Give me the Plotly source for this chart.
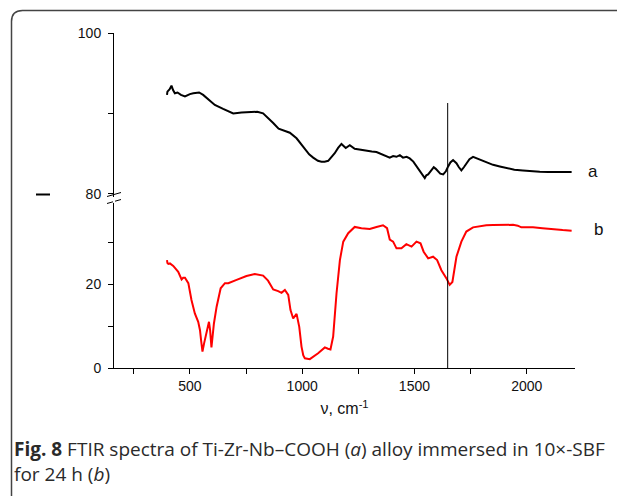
import plotly.graph_objects as go

# ---------------- data ----------------
wn_a = [398, 400, 410, 418, 425, 433, 445, 460, 478, 490, 500, 515, 530, 541, 559, 580, 611, 648, 693, 730, 767, 800, 826,
        850, 871, 895, 915, 945, 975, 1004, 1031, 1049, 1070, 1086, 1100, 1116, 1130, 1145, 1160, 1175, 1194, 1212, 1234,
        1260, 1286, 1310, 1331, 1360, 1390, 1405, 1420, 1435, 1449, 1465, 1479, 1495, 1509, 1520, 1531, 1540, 1546, 1553,
        1561, 1575, 1586, 1595, 1605, 1615, 1628, 1640, 1650, 1660, 1672, 1680, 1687, 1698, 1709, 1720, 1731, 1745, 1761,
        1780, 1806, 1830, 1850, 1880, 1909, 1945, 1983, 2020, 2058, 2095, 2132, 2170, 2200]
t_a = [92.3, 92.7, 93.0, 93.45, 92.9, 92.5, 92.6, 92.3, 92.1, 92.3, 92.4, 92.5, 92.55, 92.6, 92.3, 91.8, 91.05, 90.56, 90.0,
       90.1, 90.15, 90.2, 90.0, 89.4, 88.8, 88.1, 87.9, 87.6, 86.9, 85.9, 84.9, 84.5, 84.1, 84.0, 84.0, 84.1, 84.5, 85.05,
       85.7, 86.2, 85.7, 86.05, 85.6, 85.45, 85.3, 85.25, 85.2, 84.9, 84.5, 84.7, 84.6, 84.8, 84.5, 84.6, 84.4, 84.0, 83.4,
       83.1, 82.6, 82.1, 81.95, 82.3, 82.4, 82.9, 83.3, 83.1, 82.8, 82.5, 82.4, 82.8, 83.4, 83.9, 84.2, 84.0, 83.8, 83.3,
       82.9, 83.3, 83.8, 84.3, 84.6, 84.4, 84.1, 83.8, 83.6, 83.4, 83.2, 83.0, 82.9, 82.8, 82.75, 82.7, 82.7, 82.7, 82.7]

wn_b = [398, 400, 404, 411, 426, 448, 463, 470, 478, 485, 493, 507, 522, 537, 545, 550, 556, 563, 571, 585, 590, 596,
        601, 607, 619, 637, 656, 671, 708, 752, 789, 826, 848, 871, 893, 908, 923, 938, 948, 960, 975, 987, 997, 1005,
        1012, 1034, 1071, 1101, 1115, 1126, 1138, 1153, 1168, 1183, 1205, 1234, 1264, 1301, 1331, 1360, 1378, 1390, 1405,
        1420, 1442, 1464, 1487, 1509, 1527, 1541, 1561, 1583, 1601, 1620, 1642, 1657, 1669, 1687, 1709, 1731, 1761, 1790,
        1820, 1850, 1880, 1910, 1939, 1960, 1976, 2000, 2028, 2070, 2117, 2160, 2200]
t_b = [25.7, 25.0, 24.8, 24.9, 24.3, 22.9, 21.1, 21.5, 21.5, 20.8, 20.2, 16.2, 13.0, 11.0, 9.0, 6.5, 3.9, 5.8, 7.5, 11.0,
       9.0, 4.9, 7.5, 10.6, 14.6, 19.0, 20.2, 20.2, 21.0, 21.9, 22.4, 22.0, 20.8, 18.7, 18.3, 17.9, 18.6, 17.4, 13.8, 11.8,
       12.9, 9.8, 5.1, 3.0, 2.3, 2.1, 3.5, 4.9, 4.6, 4.4, 7.5, 17.8, 25.7, 30.1, 32.1, 33.6, 33.3, 33.1, 33.6, 34.0, 33.3,
       30.6, 30.1, 28.5, 28.5, 29.5, 28.9, 30.1, 29.7, 27.7, 26.1, 26.5, 25.7, 23.3, 21.4, 19.8, 20.5, 26.5, 30.1, 32.5,
       33.5, 33.8, 34.0, 34.05, 34.1, 34.1, 34.1, 33.9, 33.5, 33.5, 33.5, 33.3, 33.0, 32.85, 32.7]

marker_wn = 1648
x_tick_vals = [250, 500, 750, 1000, 1250, 1500, 1750, 2000]
x_tick_text = ["", "500", "", "1000", "", "1500", "", "2000"]
top_tick_vals = [80, 90, 100]
top_tick_text = ["80", "", "100"]
bot_tick_vals = [0, 10, 20, 30]
bot_tick_text = ["0", "", "20", ""]
x_title = "ν, cm<sup>-1</sup>"
caption = ("<b>Fig. 8</b> FTIR spectra of Ti-Zr-Nb–COOH (<i>a</i>) alloy immersed in 10×-SBF<br>"
           "for 24 h (<i>b</i>)")

# ---------------- layout geometry ----------------
OFF = 8  # page body margin
W, H = 625 - OFF, 496 - OFF
L, R, T, B = 114 - OFF, 50, 33 - OFF, 128
PW, PH = W - L - R, H - T - B


def px(xp):
    return (xp - OFF - L) / PW


def py(yp):
    return (T + PH - (yp - OFF)) / PH


fig = go.Figure()
fig.add_trace(go.Scatter(x=wn_a, y=t_a, mode="lines", line=dict(color="black", width=2),
                         xaxis="x2", yaxis="y2", showlegend=False))
fig.add_trace(go.Scatter(x=wn_b, y=t_b, mode="lines", line=dict(color="#ff0000", width=2),
                         xaxis="x", yaxis="y", showlegend=False))

FONT = "Liberation Sans"
tickfont = dict(family=FONT, size=14, color="#111")
xr = [162, 2215]

fig.update_layout(
    width=W, height=H,
    margin=dict(l=L, r=R, t=T, b=B),
    paper_bgcolor="white", plot_bgcolor="white",
    xaxis=dict(range=xr, domain=[0, 1], anchor="y", showline=True, linecolor="black", linewidth=1,
               ticks="outside", ticklen=5, tickcolor="black", tickvals=x_tick_vals, ticktext=x_tick_text,
               tickfont=tickfont, showgrid=False, zeroline=False,
               title=dict(text=x_title, font=dict(family=FONT, size=16, color="#111"), standoff=10)),
    xaxis2=dict(range=xr, domain=[0, 1], anchor="y2", matches="x", showline=False, showticklabels=False,
                ticks="", showgrid=False, zeroline=False),
    yaxis=dict(range=[0, 39.3], domain=[0, py(203)], anchor="x", showline=True, linecolor="black", linewidth=1,
               ticks="outside", ticklen=5, tickcolor="black", tickvals=bot_tick_vals, ticktext=bot_tick_text,
               tickfont=tickfont, showgrid=False, zeroline=False, ticklabelstandoff=4),
    yaxis2=dict(range=[79.6, 100], domain=[py(197), 1], anchor="x2", showline=True, linecolor="black", linewidth=1,
                ticks="outside", ticklen=5, tickcolor="black", tickvals=top_tick_vals, ticktext=top_tick_text,
                tickfont=tickfont, showgrid=False, zeroline=False, ticklabelstandoff=4),
)

shapes = []
# vertical marker line
shapes.append(dict(type="line", xref="x", yref="paper", x0=marker_wn, x1=marker_wn, y0=0, y1=py(103),
                   line=dict(color="black", width=1)))
# axis break marks
for y0, y1 in [(196.5, 192.5), (203.5, 199.5)]:
    shapes.append(dict(type="line", xref="paper", yref="paper", x0=px(107), x1=px(121), y0=py(y0), y1=py(y1),
                       line=dict(color="black", width=1)))
# white gap in axis line at break
shapes.append(dict(type="line", xref="paper", yref="paper", x0=px(114), x1=px(114), y0=py(197.5), y1=py(202.5),
                   line=dict(color="white", width=2)))
# stray dash at left
shapes.append(dict(type="line", xref="paper", yref="paper", x0=px(36), x1=px(50), y0=py(194.5), y1=py(194.5),
                   line=dict(color="black", width=2)))
# rounded frame
r = 11
x0f, y0f, x1f, y1f = 11.5, 10.5, 640, 510


def pt(a, b):
    return f"{px(a):.5f},{py(b):.5f}"


path = (f"M {pt(x0f, y1f)} L {pt(x0f, y0f + r)} Q {pt(x0f, y0f)} {pt(x0f + r, y0f)} "
        f"L {pt(x1f, y0f)}")
shapes.append(dict(type="path", xref="paper", yref="paper", path=path, line=dict(color="#444", width=1.5)))
fig.update_layout(shapes=shapes)

annos = [
    dict(text="a", x=px(600), y=py(171), xref="paper", yref="paper", showarrow=False,
         font=dict(family=FONT, size=17, color="#111")),
    dict(text="b", x=px(605), y=py(229), xref="paper", yref="paper", showarrow=False,
         font=dict(family=FONT, size=17, color="#111")),
    dict(text=caption, x=px(12), y=py(434), xref="paper", yref="paper", xanchor="left", yanchor="top",
         align="left", showarrow=False,
         font=dict(family="Open Sans", size=19, color="#2a2a2a")),
]
fig.update_layout(annotations=annos)

fig.write_html("out.html")
